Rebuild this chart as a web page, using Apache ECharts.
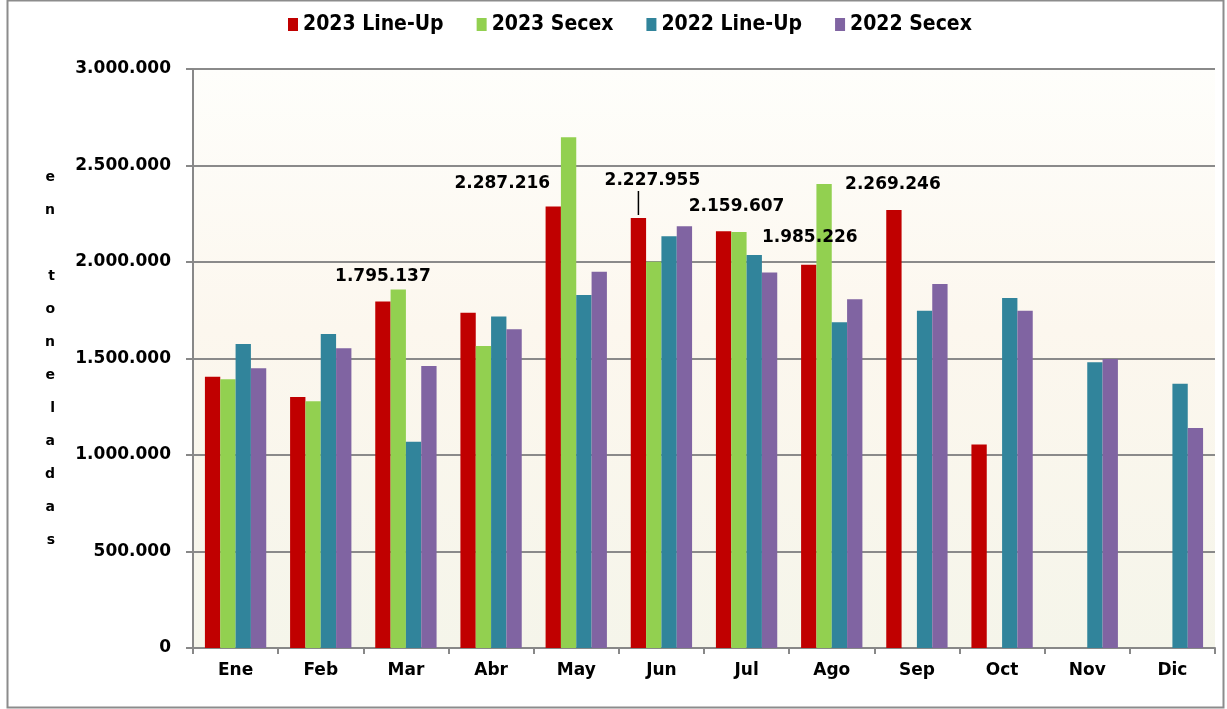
<!DOCTYPE html>
<html>
<head>
<meta charset="utf-8">
<script src="https://cdn.jsdelivr.net/npm/echarts@6/dist/echarts.min.js"></script>
<style>
  html, body { margin: 0; padding: 0; background: #fff; }
  #chart { width: 1227px; height: 709px; }
</style>
</head>
<body>
<div id="chart"></div>
<script>
var months = ["Ene", "Feb", "Mar", "Abr", "May", "Jun", "Jul", "Ago", "Sep", "Oct", "Nov", "Dic"];
var lineUp2023 = [1405000, 1300000, 1795137, 1737000, 2287216, 2227955, 2159607, 1985226, 2269246, 1054000, null, null];
var secex2023 = [1392000, 1278000, 1857000, 1565000, 2646000, 2001000, 2155000, 2404000, null, null, null, null];
var lineUp2022 = [1575000, 1627000, 1069000, 1718000, 1829000, 2133000, 2036000, 1688000, 1748000, 1813000, 1480000, 1369000];
var secex2022 = [1449000, 1553000, 1461000, 1651000, 1950000, 2185000, 1945000, 1807000, 1886000, 1748000, 1497000, 1140000];
var yTicks = [0, 500000, 1000000, 1500000, 2000000, 2500000, 3000000];

// where the value labels of the red bars are moved to (dx, dy)
var labelMoves = { 2: [0, -10], 4: [-51, -8], 5: [0, 2], 6: [13, -10], 7: [1, -12], 8: [-1, -10] };
var leaderIndex = 5; // Jun label sits on a short leader line

function fmt(v) {
  return String(Math.round(v)).replace(/\B(?=(\d{3})+(?!\d))/g, ".");
}

var font = "DejaVu Sans";

var redData = lineUp2023.map(function (v, i) {
  if (labelMoves[i] && v != null) {
    return { value: v, label: { show: true } };
  }
  return v;
});

var chart = echarts.init(document.getElementById("chart"));
chart.setOption({
  backgroundColor: "#fff",
  animation: false,
  color: ["#c00000", "#92d050", "#31849b", "#8064a2"],
  legend: {
    top: 9,
    left: 283,
    itemWidth: 10,
    itemHeight: 13,
    itemGap: 33,
    icon: "rect",
    textStyle: {
      fontFamily: "DejaVu Sans Condensed",
      fontWeight: "bold",
      fontSize: 21,
      color: "#000"
    }
  },
  grid: {
    left: 193,
    right: 12,
    top: 69,
    bottom: 61,
    show: true,
    borderWidth: 0,
    backgroundColor: new echarts.graphic.LinearGradient(0, 0, 0, 1, [
      { offset: 0, color: "#fefefb" },
      { offset: 0.45, color: "#fcf7ee" },
      { offset: 1, color: "#f5f5ea" }
    ])
  },
  xAxis: {
    type: "category",
    data: months,
    axisLine: { lineStyle: { color: "#888", width: 2 } },
    axisTick: { show: true, length: 6, lineStyle: { color: "#888", width: 2 } },
    axisLabel: {
      color: "#000",
      fontFamily: font,
      fontWeight: "bold",
      fontSize: 17,
      margin: 14
    }
  },
  yAxis: {
    type: "value",
    min: 0,
    max: 3000000,
    interval: 500000,
    name: "e\nn\n\nt\no\nn\ne\nl\na\nd\na\ns",
    nameLocation: "middle",
    nameRotate: 0,
    nameGap: 138,
    nameTextStyle: {
      color: "#000",
      fontFamily: font,
      fontWeight: "bold",
      fontSize: 14,
      lineHeight: 33
    },
    axisLine: { show: true, lineStyle: { color: "#888", width: 2 } },
    axisTick: { show: true, inside: false, length: 7, lineStyle: { color: "#888", width: 2 } },
    splitLine: { lineStyle: { color: "#8a8a8a", width: 2 } },
    axisLabel: {
      color: "#000",
      fontFamily: font,
      fontWeight: "bold",
      fontSize: 17,
      margin: 22,
      formatter: function (v) {
        return yTicks.indexOf(v) >= 0 ? fmt(v) : "";
      }
    }
  },
  series: [
    {
      name: "2023 Line-Up",
      type: "bar",
      data: redData,
      barGap: "0%",
      barCategoryGap: "28%",
      label: {
        show: false,
        position: "top",
        formatter: function (p) {
          if (p.dataIndex === leaderIndex) {
            return "{p|}{v|" + fmt(p.value) + "}\n{l| }";
          }
          return "{v|" + fmt(p.value) + "}";
        },
        rich: {
          v: { color: "#000", fontFamily: font, fontWeight: "bold", fontSize: 17, lineHeight: 20 },
          p: { width: 28, height: 20 },
          l: { width: 1.5, height: 24, lineHeight: 24, fontSize: 2, backgroundColor: "#000" }
        }
      },
      labelLayout: function (p) {
        var m = labelMoves[p.dataIndex];
        return m ? { dx: m[0], dy: m[1] } : {};
      }
    },
    { name: "2023 Secex", type: "bar", data: secex2023, barGap: "0%", barCategoryGap: "28%" },
    { name: "2022 Line-Up", type: "bar", data: lineUp2022, barGap: "0%", barCategoryGap: "28%" },
    { name: "2022 Secex", type: "bar", data: secex2022, barGap: "0%", barCategoryGap: "28%" }
  ],
  graphic: [
    {
      type: "rect",
      left: 5,
      top: -2,
      shape: { width: 1216, height: 707 },
      style: { fill: null, stroke: "#8c8c8c", lineWidth: 2 },
      silent: true
    }
  ]
});
</script>
</body>
</html>
